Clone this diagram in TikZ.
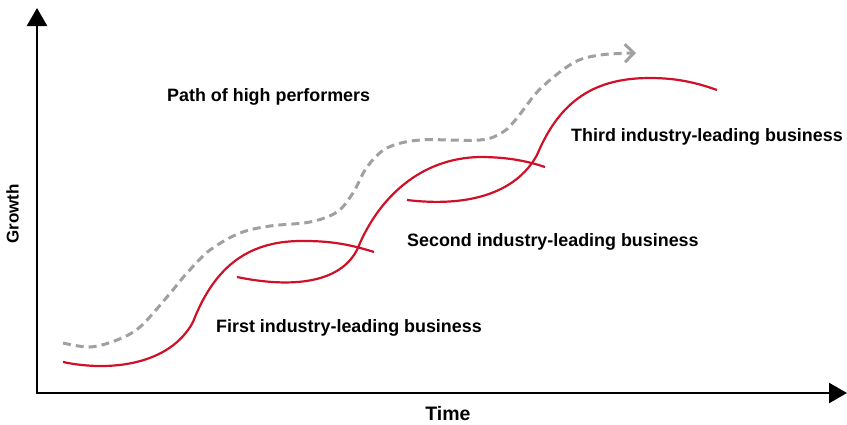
\documentclass[tikz,border=0pt]{standalone}
\usepackage{fontspec}
\setmainfont{Liberation Sans}
\usetikzlibrary{arrows.meta}
\definecolor{curvered}{RGB}{208,16,40}
\definecolor{pathgray}{RGB}{160,160,160}
\begin{document}
\begin{tikzpicture}[x=1pt,y=-1pt,
  axis/.style={line width=2.6pt, line join=miter, {Triangle[length=18pt,width=20pt]}-{Triangle[length=18pt,width=20pt]}},
  scurve/.style={draw=curvered, line width=2.2pt},
  hpath/.style={draw=pathgray, line width=3pt, dash pattern=on 8pt off 5pt, -{Straight Barb[length=9pt,width=18pt]}},
  lbl/.style={font=\fontsize{17.9}{21}\selectfont\bfseries, inner sep=0pt, anchor=base west},
]
\useasboundingbox (0,0) rectangle (847,424);
\coordinate (O) at (37,393);
\coordinate (ytip) at (37,8);
\coordinate (xtip) at (847,393);
\draw[axis] (ytip) -- (O) -- (xtip);

% S-curves
\draw[scurve] (63,362) .. controls (110,372) and (170,365) .. (193,322)
  .. controls (215,265) and (250,240) .. (305,241)
  .. controls (335,241) and (355,246) .. (374,252);
\draw[scurve] (237,277) .. controls (290,288) and (345,285) .. (360,243)
  .. controls (380,198) and (420,158) .. (480,157)
  .. controls (510,157) and (530,162) .. (545,167);
\draw[scurve] (407,200) .. controls (465,207) and (515,195) .. (537,155)
  .. controls (560,100) and (595,78) .. (650,78)
  .. controls (680,78) and (700,84) .. (717,90);

% path of high performers
\draw[hpath] plot[smooth, tension=0.55] coordinates {(63,343) (90,347) (117,340) (140,327) (167,297) (187,273) (210,250) (240,233) (270,226) (310,222) (337,212) (353,193) (367,167) (387,148) (420,140) (480,140) (503,132) (517,118) (540,89) (573,63) (600,55) (636,53)};

% labels
\node[lbl] (p) at (167,101) {Path of high performers};
\node[lbl] (l1) at (216,332) {First industry-leading business};
\node[lbl] (l2) at (407,246) {Second industry-leading business};
\node[lbl] (l3) at (571,141) {Third industry-leading business};
\node[font=\fontsize{17}{20}\selectfont\bfseries, rotate=90, inner sep=0pt] (g) at (12.5,214) {Growth};
\node[font=\fontsize{19.5}{23}\selectfont\bfseries, anchor=base, inner sep=0pt] (t) at (448,420) {Time};
\end{tikzpicture}
\end{document}
